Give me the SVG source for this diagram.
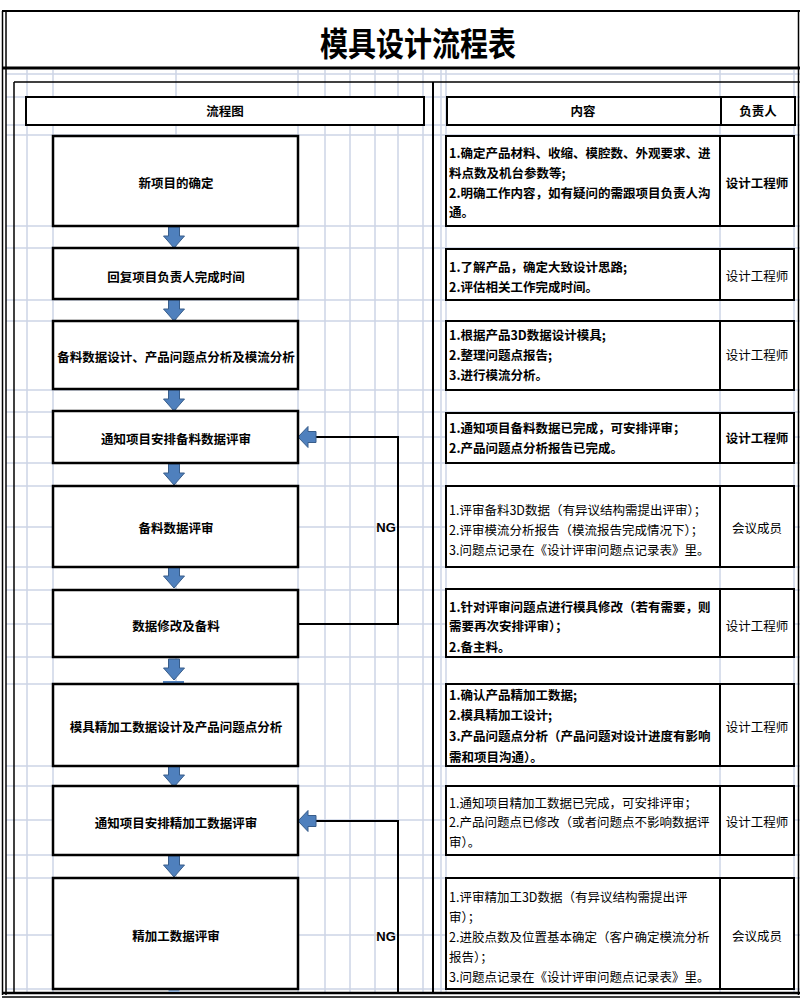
<svg xmlns="http://www.w3.org/2000/svg" width="800" height="1004" viewBox="0 0 800 1004">
<style>
.grid line{stroke:#cdd5e6;stroke-width:1.5}
.frame{stroke:#000;fill:none}
.box{fill:#fff;stroke:#000;stroke-width:2.5}
.rbox{fill:#fff;stroke:#000;stroke-width:2}
.t{font-family:"Noto Sans CJK SC","Noto Sans",sans-serif;font-size:12.5px;fill:#000}
.b{font-weight:700}
.c{text-anchor:middle}
.arr{fill:#4f80bd;stroke:#385d8a;stroke-width:1}
.con{fill:none;stroke:#000;stroke-width:2}
.ng{font-family:"Liberation Sans",Arial,sans-serif;font-weight:700;font-size:13px;text-anchor:middle}
</style>
<defs>
<path id="dn" d="M-5.5,0 H5.5 V9 H10.5 L0,21 L-10.5,9 H-5.5 Z"/>
<path id="lf" d="M0,0 L10,-10.5 V-5.5 H18 V5.5 H10 V10.5 Z"/>
</defs>
<rect x="0" y="0" width="800" height="1004" fill="#fff"/>
<g class="grid">
<line x1="6" y1="74" x2="800" y2="74"/><line x1="6" y1="97" x2="800" y2="97"/><line x1="6" y1="125" x2="800" y2="125"/>
<line x1="6" y1="135" x2="800" y2="135"/><line x1="6" y1="226" x2="800" y2="226"/><line x1="6" y1="248" x2="800" y2="248"/>
<line x1="6" y1="300" x2="800" y2="300"/><line x1="6" y1="321" x2="800" y2="321"/><line x1="6" y1="390" x2="800" y2="390"/>
<line x1="6" y1="412" x2="800" y2="412"/><line x1="6" y1="437" x2="800" y2="437"/><line x1="6" y1="463" x2="800" y2="463"/>
<line x1="6" y1="486" x2="800" y2="486"/><line x1="6" y1="527" x2="800" y2="527"/><line x1="6" y1="567" x2="800" y2="567"/>
<line x1="6" y1="590" x2="800" y2="590"/><line x1="6" y1="624" x2="800" y2="624"/><line x1="6" y1="657" x2="800" y2="657"/>
<line x1="6" y1="684" x2="800" y2="684"/><line x1="6" y1="766" x2="800" y2="766"/><line x1="6" y1="786" x2="800" y2="786"/>
<line x1="6" y1="820" x2="800" y2="820"/><line x1="6" y1="855" x2="800" y2="855"/><line x1="6" y1="878" x2="800" y2="878"/>
<line x1="6" y1="935" x2="800" y2="935"/><line x1="6" y1="989" x2="800" y2="989"/>
<line x1="27" y1="70" x2="27" y2="994"/><line x1="53" y1="70" x2="53" y2="994"/><line x1="176" y1="70" x2="176" y2="994"/>
<line x1="298" y1="70" x2="298" y2="994"/><line x1="325" y1="70" x2="325" y2="994"/><line x1="350" y1="70" x2="350" y2="994"/>
<line x1="375" y1="70" x2="375" y2="994"/><line x1="398" y1="70" x2="398" y2="994"/><line x1="423" y1="70" x2="423" y2="994"/>
<line x1="441" y1="70" x2="441" y2="994"/><line x1="446" y1="70" x2="446" y2="994"/><line x1="720" y1="70" x2="720" y2="994"/>
<line x1="794" y1="70" x2="794" y2="994"/>
</g>
<g id="frame">
<line class="frame" x1="2" y1="11" x2="800" y2="11" stroke-width="2"/>
<line class="frame" x1="2" y1="68" x2="800" y2="68" stroke-width="3"/>
<line class="frame" x1="2.5" y1="11" x2="2.5" y2="995" stroke-width="1.5"/>
<line class="frame" x1="6" y1="11" x2="6" y2="995" stroke-width="1.5"/>
<line class="frame" x1="798.5" y1="11" x2="798.5" y2="995" stroke-width="1.5"/>
<line class="frame" x1="14" y1="82" x2="800" y2="82" stroke-width="1.5"/>
<line class="frame" x1="14" y1="82" x2="14" y2="994" stroke-width="1.5"/>
<line class="frame" x1="433" y1="82" x2="433" y2="994" stroke-width="2"/>
<line class="frame" x1="2" y1="993" x2="800" y2="993" stroke-width="2.5"/>
<line class="frame" x1="2" y1="997" x2="800" y2="997" stroke-width="1.5"/>
</g>
<g id="title"><text class="t b c" font-size="28" transform="translate(418,56) scale(1,1.18)" style="font-size:28px">模具设计流程表</text></g>
<g id="header">
<rect class="rbox" x="26" y="97" width="398" height="28"/>
<text class="t b c" x="225" y="115.5">流程图</text>
<rect class="rbox" x="447" y="97" width="274" height="28"/>
<rect class="rbox" x="721" y="97" width="74" height="28"/>
<text class="t b c" x="583" y="115.5">内容</text>
<text class="t b c" x="758" y="115.5">负责人</text>
</g>
<g id="connectors">
<use href="#dn" class="arr" x="174" y="227"/>
<use href="#dn" class="arr" x="174" y="300"/>
<use href="#dn" class="arr" x="174" y="390"/>
<use href="#dn" class="arr" x="174" y="464"/>
<use href="#dn" class="arr" x="174" y="567"/>
<use href="#dn" class="arr" x="174" y="659"/>
<rect x="163" y="681" width="21" height="5" fill="#4f80bd"/>
<use href="#dn" class="arr" x="174" y="766"/>
<use href="#dn" class="arr" x="174" y="856"/>
<rect x="168.5" y="987" width="11" height="5" fill="#8fb0d8"/>
<polyline class="con" points="316,437 398,437 398,624 298,624"/>
<use href="#lf" class="arr" x="298" y="437"/>
<text class="ng" x="386" y="532">NG</text>
<polyline class="con" points="316,821 398,821 398,993"/>
<use href="#lf" class="arr" x="298" y="821"/>
<text class="ng" x="386" y="941">NG</text>
</g>
<g id="n1"><rect class="box" x="53" y="136" width="245" height="90"/><text class="t b c" x="176" y="187.5">新项目的确定</text></g>
<g id="n2"><rect class="box" x="53" y="248" width="245" height="51"/><text class="t b c" x="176" y="281.5">回复项目负责人完成时间</text></g>
<g id="n3"><rect class="box" x="53" y="321" width="245" height="68"/><text class="t b c" x="176" y="361.5">备料数据设计、产品问题点分析及模流分析</text></g>
<g id="n4"><rect class="box" x="53" y="411" width="245" height="52"/><text class="t b c" x="176" y="443.5">通知项目安排备料数据评审</text></g>
<g id="n5"><rect class="box" x="53" y="486" width="245" height="81"/><text class="t b c" x="176" y="532.5">备料数据评审</text></g>
<g id="n6"><rect class="box" x="53" y="590" width="245" height="67"/><text class="t b c" x="176" y="630.5">数据修改及备料</text></g>
<g id="n7"><rect class="box" x="53" y="684" width="245" height="82"/><text class="t b c" x="176" y="731.5">模具精加工数据设计及产品问题点分析</text></g>
<g id="n8"><rect class="box" x="53" y="786" width="245" height="69"/><text class="t b c" x="176" y="827.5">通知项目安排精加工数据评审</text></g>
<g id="n9"><rect class="box" x="53" y="878" width="245" height="111"/><text class="t b c" x="176" y="940.5">精加工数据评审</text></g>
<g id="r1"><rect class="rbox" x="446" y="136" width="348" height="90"/><line x1="720" y1="136" x2="720" y2="226" stroke="#000" stroke-width="2"/>
<text class="t b" x="449" y="157.5">1.确定产品材料、收缩、模腔数、外观要求、进</text>
<text class="t b" x="449" y="177.5">料点数及机台参数等;</text>
<text class="t b" x="449" y="197.5">2.明确工作内容，如有疑问的需跟项目负责人沟</text>
<text class="t b" x="449" y="216.5">通。</text>
<text class="t b c" x="757" y="187.5">设计工程师</text></g>
<g id="r2"><rect class="rbox" x="446" y="249" width="348" height="51"/><line x1="720" y1="249" x2="720" y2="300" stroke="#000" stroke-width="2"/>
<text class="t b" x="449" y="271.5">1.了解产品，确定大致设计思路;</text>
<text class="t b" x="449" y="291.5">2.评估相关工作完成时间。</text>
<text class="t c" x="757" y="280.5">设计工程师</text></g>
<g id="r3"><rect class="rbox" x="446" y="321" width="348" height="69"/><line x1="720" y1="321" x2="720" y2="390" stroke="#000" stroke-width="2"/>
<text class="t b" x="449" y="339.5">1.根据产品3D数据设计模具;</text>
<text class="t b" x="449" y="359.5">2.整理问题点报告;</text>
<text class="t b" x="449" y="379.5">3.进行模流分析。</text>
<text class="t c" x="757" y="359.5">设计工程师</text></g>
<g id="r4"><rect class="rbox" x="446" y="413" width="348" height="50"/><line x1="720" y1="413" x2="720" y2="463" stroke="#000" stroke-width="2"/>
<text class="t b" x="449" y="432.5">1.通知项目备料数据已完成，可安排评审；</text>
<text class="t b" x="449" y="452.5">2.产品问题点分析报告已完成。</text>
<text class="t b c" x="757" y="442.5">设计工程师</text></g>
<g id="r5"><rect class="rbox" x="446" y="486" width="348" height="81"/><line x1="720" y1="486" x2="720" y2="567" stroke="#000" stroke-width="2"/>
<text class="t" x="449" y="514.5">1.评审备料3D数据（有异议结构需提出评审）；</text>
<text class="t" x="449" y="534.5">2.评审模流分析报告（模流报告完成情况下）；</text>
<text class="t" x="449" y="554.5">3.问题点记录在《设计评审问题点记录表》里。</text>
<text class="t c" x="757" y="532.5">会议成员</text></g>
<g id="r6"><rect class="rbox" x="446" y="589" width="348" height="68"/><line x1="720" y1="589" x2="720" y2="657" stroke="#000" stroke-width="2"/>
<text class="t b" x="449" y="611.5">1.针对评审问题点进行模具修改（若有需要，则</text>
<text class="t b" x="449" y="631">需要再次安排评审）；</text>
<text class="t b" x="449" y="651.5">2.备主料。</text>
<text class="t c" x="757" y="630.5">设计工程师</text></g>
<g id="r7"><rect class="rbox" x="446" y="684" width="348" height="82"/><line x1="720" y1="684" x2="720" y2="766" stroke="#000" stroke-width="2"/>
<text class="t b" x="449" y="699.5">1.确认产品精加工数据;</text>
<text class="t b" x="449" y="720">2.模具精加工设计;</text>
<text class="t b" x="449" y="741">3.产品问题点分析（产品问题对设计进度有影响</text>
<text class="t b" x="449" y="761.5">需和项目沟通）。</text>
<text class="t c" x="757" y="731.5">设计工程师</text></g>
<g id="r8"><rect class="rbox" x="446" y="786" width="348" height="69"/><line x1="720" y1="786" x2="720" y2="855" stroke="#000" stroke-width="2"/>
<text class="t" x="449" y="807.5">1.通知项目精加工数据已完成，可安排评审；</text>
<text class="t" x="449" y="826.5">2.产品问题点已修改（或者问题点不影响数据评</text>
<text class="t" x="449" y="846.5">审）。</text>
<text class="t c" x="757" y="826.5">设计工程师</text></g>
<g id="r9"><rect class="rbox" x="446" y="878" width="348" height="111"/><line x1="720" y1="878" x2="720" y2="989" stroke="#000" stroke-width="2"/>
<text class="t" x="449" y="901.5">1.评审精加工3D数据（有异议结构需提出评</text>
<text class="t" x="449" y="921.5">审）；</text>
<text class="t" x="449" y="941.5">2.进胶点数及位置基本确定（客户确定模流分析</text>
<text class="t" x="449" y="961.5">报告）；</text>
<text class="t" x="449" y="981.5">3.问题点记录在《设计评审问题点记录表》里。</text>
<text class="t c" x="757" y="940.5">会议成员</text></g>
</svg>
